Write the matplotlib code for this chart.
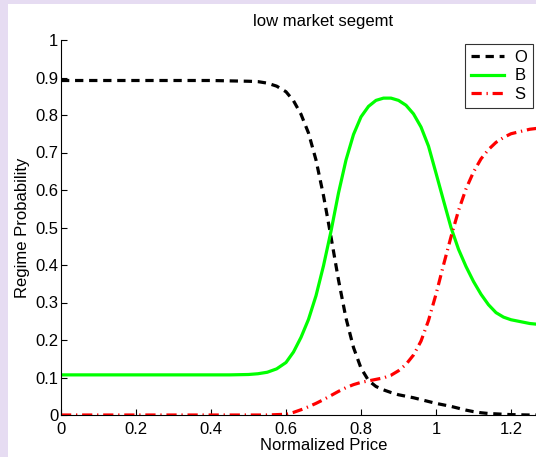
import matplotlib
matplotlib.use('Agg')
import matplotlib.pyplot as plt
from matplotlib.patches import Rectangle

plt.rcParams['font.family'] = ['Liberation Sans', 'DejaVu Sans']

price = [0, 0.1, 0.2, 0.3, 0.4, 0.45, 0.5, 0.525, 0.55, 0.575,
         0.6, 0.62, 0.64, 0.66, 0.68, 0.7, 0.72, 0.74, 0.76, 0.78,
         0.8, 0.82, 0.84, 0.86, 0.88, 0.9, 0.92, 0.94, 0.96, 0.98,
         1.0, 1.02, 1.04, 1.06, 1.08, 1.1, 1.12, 1.14, 1.16, 1.18,
         1.2, 1.25, 1.3, 1.35, 1.4]

p_O = [0.892, 0.892, 0.892, 0.892, 0.892, 0.891, 0.89, 0.889, 0.885, 0.877,
       0.862, 0.838, 0.802, 0.752, 0.68, 0.585, 0.475, 0.36, 0.258, 0.18,
       0.125, 0.092, 0.076, 0.067, 0.06, 0.054, 0.05, 0.046, 0.041, 0.036,
       0.031, 0.027, 0.023, 0.018, 0.013, 0.009, 0.006, 0.004, 0.003, 0.002,
       0.001, 0.0, 0.0, 0.0, 0.0]

p_B = [0.107, 0.107, 0.107, 0.107, 0.107, 0.107, 0.108, 0.110, 0.114, 0.123,
       0.14, 0.168, 0.207, 0.255, 0.318, 0.398, 0.49, 0.592, 0.68, 0.748,
       0.795, 0.823, 0.839, 0.845, 0.845, 0.839, 0.826, 0.803, 0.768, 0.717,
       0.645, 0.572, 0.5, 0.442, 0.396, 0.356, 0.322, 0.294, 0.273, 0.261,
       0.254, 0.244, 0.239, 0.236, 0.235]

p_S = [0.0, 0.0, 0.0, 0.0, 0.0, 0.0, 0.0, 0.0, 0.0, 0.001,
       0.002, 0.007, 0.014, 0.022, 0.031, 0.041, 0.052, 0.063, 0.073, 0.081,
       0.087, 0.091, 0.095, 0.099, 0.106, 0.118, 0.135, 0.16, 0.197, 0.252,
       0.322, 0.40, 0.475, 0.545, 0.603, 0.648, 0.683, 0.708, 0.727, 0.74,
       0.75, 0.762, 0.768, 0.771, 0.773]

xticks = [0, 0.2, 0.4, 0.6, 0.8, 1, 1.2]
xticklabels = ['0', '0.2', '0.4', '0.6', '0.8', '1', '1.2']
yticks = [0, 0.1, 0.2, 0.3, 0.4, 0.5, 0.6, 0.7, 0.8, 0.9, 1]
yticklabels = ['0', '0.1', '0.2', '0.3', '0.4', '0.5', '0.6', '0.7', '0.8', '0.9', '1']

W, H = 536, 457
fig = plt.figure(figsize=(W / 100, H / 100), dpi=100, facecolor='#e6dcf2')
# white panel inside the lavender frame
fig.patches.append(Rectangle((8 / W, 0), 1, 1 - 4 / H, transform=fig.transFigure,
                             facecolor='white', edgecolor='none', zorder=-10))

ax = fig.add_axes([61 / W, 1 - 415 / H, 1.4 * 375 / W, 375 / H])
ax.set_facecolor('none')

ax.plot(price, p_O, color='black', lw=2.3, dashes=(2.6, 1.8), label='O')
ax.plot(price, p_B, color='#00ff00', lw=2.3, label='B')
ax.plot(price, p_S, color='red', lw=2.3, dashes=(3.2, 1.5, 0.4, 1.5), label='S')

ax.set_xlim(0, 1.4)
ax.set_ylim(0, 1)
ax.set_xticks(xticks)
ax.set_xticklabels(xticklabels)
ax.set_yticks(yticks)
ax.set_yticklabels(yticklabels)
ax.tick_params(direction='in', length=4, width=0.8, labelsize=12)
ax.tick_params(axis='x', pad=5)
ax.tick_params(axis='y', pad=2)
ax.spines['top'].set_visible(False)
ax.spines['right'].set_visible(False)
for s in ['left', 'bottom']:
    ax.spines[s].set_linewidth(0.8)

ax.set_xlabel('Normalized Price', fontsize=12, labelpad=1)
ax.set_ylabel('Regime Probability', fontsize=12, labelpad=4)
ax.set_title('low market segemt', fontsize=12, pad=10)

leg = ax.legend(loc='upper right', bbox_to_anchor=(533 / W, 1 - 44 / H),
                bbox_transform=fig.transFigure, fontsize=12, frameon=True,
                fancybox=False, handlelength=2.0, handletextpad=0.6,
                labelspacing=0.22, borderpad=0.35, borderaxespad=0)
leg.get_frame().set_edgecolor('black')
leg.get_frame().set_linewidth(0.8)

fig.savefig('out.png', dpi=100, facecolor=fig.get_facecolor())
